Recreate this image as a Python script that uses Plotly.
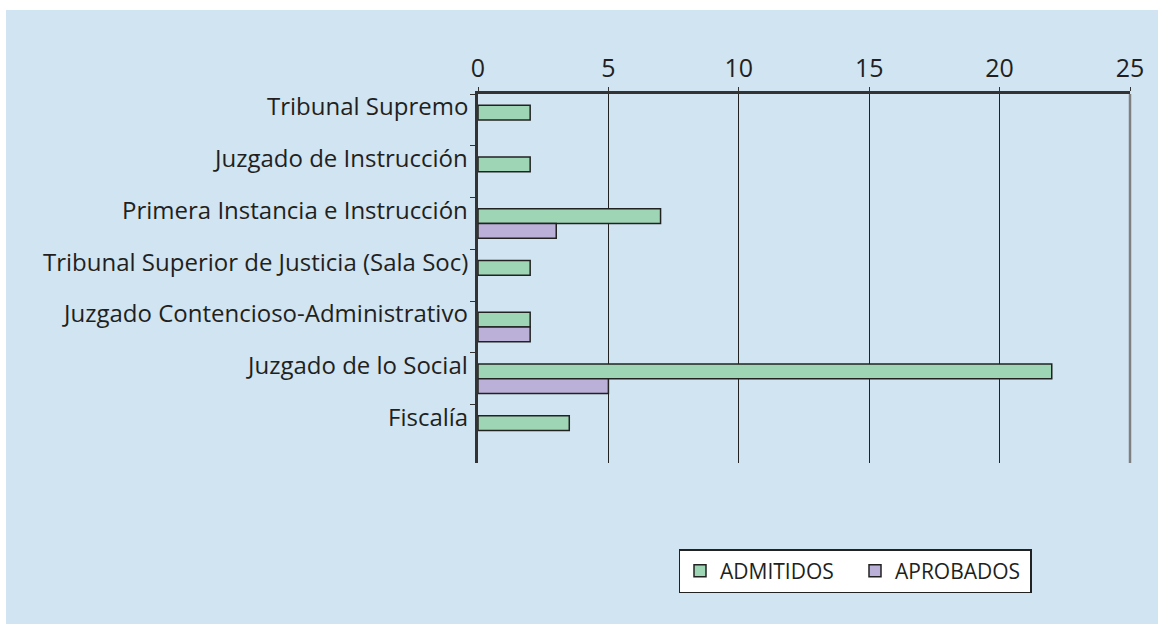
import plotly.graph_objects as go

categories = [
    "Tribunal Supremo",
    "Juzgado de Instrucción",
    "Primera Instancia e Instrucción",
    "Tribunal Superior de Justicia (Sala Soc)",
    "Juzgado Contencioso-Administrativo",
    "Juzgado de lo Social",
    "Fiscalía",
]
admitidos = [2, 2, 7, 2, 2, 22, 3.5]
aprobados = [None, None, 3, None, 2, 5, None]
x_ticks = [0, 5, 10, 15, 20, 25]

FONT = "Open Sans"
TXT = "#231F20"
BG = "#D0E4F2"

W, H = 1158, 624
L, R, T, B = 478, 28, 94, 161
pw, ph = W - L - R, H - T - B

def px2x(p):
    return (p - L) / pw

def py2y(p):
    return (H - B - p) / ph

fig = go.Figure()
fig.add_trace(go.Bar(
    y=categories, x=admitidos, orientation="h", name="ADMITIDOS",
    marker=dict(color="#9DD5B5", line=dict(color="#222222", width=1.5)),
))
fig.add_trace(go.Bar(
    y=categories, x=aprobados, orientation="h", name="APROBADOS",
    marker=dict(color="#BBB0D8", line=dict(color="#222222", width=1.5)),
))

for c in categories:
    fig.add_annotation(
        x=0, y=c, xref="x", yref="y", text=c, showarrow=False,
        xanchor="right", yanchor="middle", xshift=-8, yshift=14,
        font=dict(family=FONT, size=24, color=TXT),
    )

shapes = [
    dict(type="rect", xref="paper", yref="paper", layer="below",
         x0=px2x(6), x1=px2x(W + 5), y0=py2y(H + 5), y1=py2y(10),
         fillcolor=BG, line=dict(width=0)),
    dict(type="line", xref="paper", yref="paper", x0=1, x1=1, y0=0, y1=1,
         line=dict(color="#7F7F7F", width=2.5)),
]

fig.update_layout(
    width=W, height=H,
    margin=dict(l=L, r=R, t=T, b=B, pad=0, autoexpand=False),
    paper_bgcolor="white",
    plot_bgcolor="rgba(0,0,0,0)",
    barmode="group",
    bargap=0.43,
    bargroupgap=0,
    showlegend=True,
    legend=dict(
        orientation="h", x=px2x(855), y=py2y(549), xanchor="center", yanchor="top",
        bgcolor="white", bordercolor="#222222", borderwidth=1.5,
        font=dict(family=FONT, size=21, color=TXT),
        itemwidth=30, traceorder="normal", entrywidth=130,
    ),
    shapes=shapes,
    xaxis=dict(
        side="top", range=[0, 25], tickvals=x_ticks, ticktext=[str(v) for v in x_ticks],
        showgrid=True, gridcolor="#222222", gridwidth=1.2,
        showline=True, linecolor="#333333", linewidth=2.5,
        ticks="outside", ticklen=4, tickcolor="#333333",
        tickfont=dict(family=FONT, size=25, color=TXT),
        zeroline=False, fixedrange=True, automargin=False,
    ),
    yaxis=dict(
        type="category", categoryorder="array", categoryarray=categories,
        autorange="reversed", showticklabels=False,
        showline=True, linecolor="#333333", linewidth=2.5,
        ticks="outside", ticklen=5, tickcolor="#333333", tickson="boundaries",
        showgrid=False, zeroline=False, fixedrange=True, automargin=False,
    ),
)

fig.write_html(
    "out.html",
    config={"displayModeBar": False},
    post_script="document.body.style.margin='0';document.body.style.padding='0';",
)
